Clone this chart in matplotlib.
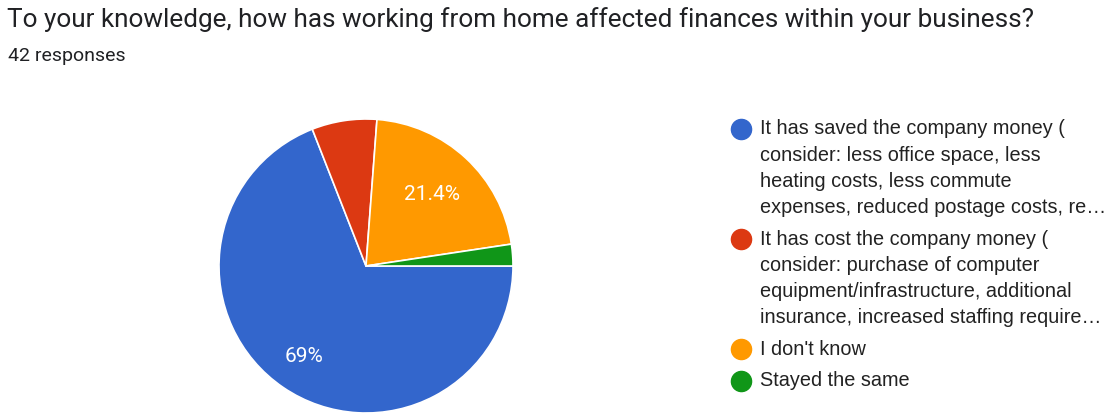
import matplotlib.pyplot as plt
import numpy as np

W, H, DPI = 1118, 413, 100

title = "To your knowledge, how has working from home affected finances within your business?"
subtitle = "42 responses"

# legend entries, already wrapped/truncated the way the form summary shows them
legend_lines = [
    ["It has saved the company money (",
     "consider: less office space, less",
     "heating costs, less commute",
     "expenses, reduced postage costs, re\u2026"],
    ["It has cost the company money (",
     "consider: purchase of computer",
     "equipment/infrastructure, additional",
     "insurance, increased staffing require\u2026"],
    ["I don't know"],
    ["Stayed the same"],
]
counts = [29, 3, 9, 1]
colors = ["#3366cc", "#dc3912", "#ff9900", "#109618"]
label_dist = [0.745, 0.65, 0.66, 0.7]

fig = plt.figure(figsize=(W / DPI, H / DPI), dpi=DPI)
fig.patch.set_facecolor("white")

fig.text(7 / W, 1 - 20 / H, title, fontsize=18.8, family="Roboto",
         color="#202124", va="center", ha="left")
fig.text(8 / W, 1 - 56 / H, subtitle, fontsize=14, family="Roboto",
         color="#202124", va="center", ha="left")

# pie axes placed in pixel terms: centre (366, 266), radius 147
cx, cy, r = 366, 266, 147
ax = fig.add_axes([(cx - r) / W, (H - cy - r) / H, 2 * r / W, 2 * r / H])
ax.set_aspect("equal")


def fmt(p):
    if p < 10:
        return ""
    return f"{p:.1f}".rstrip("0").rstrip(".") + "%"


wedges, texts, autotexts = ax.pie(
    counts, colors=colors, startangle=0, counterclock=False,
    autopct=fmt, pctdistance=0.7, radius=1,
    wedgeprops=dict(edgecolor="white", linewidth=1.2),
    textprops=dict(color="white", fontsize=15, family="Roboto"))

# nudge the percentage labels along their wedge bisectors
for w, t, d in zip(wedges, autotexts, label_dist):
    ang = np.deg2rad((w.theta1 + w.theta2) / 2)
    t.set_position((d * np.cos(ang), d * np.sin(ang)))

ax.set_xlim(-1, 1)
ax.set_ylim(-1, 1)
ax.axis("off")

# legend drawn by hand: dot + wrapped lines
line_h = 26.2
entry_gap = 31.5
y = 129
for lines, c in zip(legend_lines, colors):
    fig.lines.append(plt.Line2D([741 / W], [1 - y / H], marker="o", markersize=14.5,
                                color=c, linestyle="none", transform=fig.transFigure))
    for i, ln in enumerate(lines):
        fig.text(760 / W, 1 - (y + i * line_h) / H, ln, fontsize=14.3,
                 family="Liberation Sans", color="#222222", va="center", ha="left")
    y += (len(lines) - 1) * line_h + entry_gap

fig.savefig("out.png", dpi=DPI, facecolor="white")
